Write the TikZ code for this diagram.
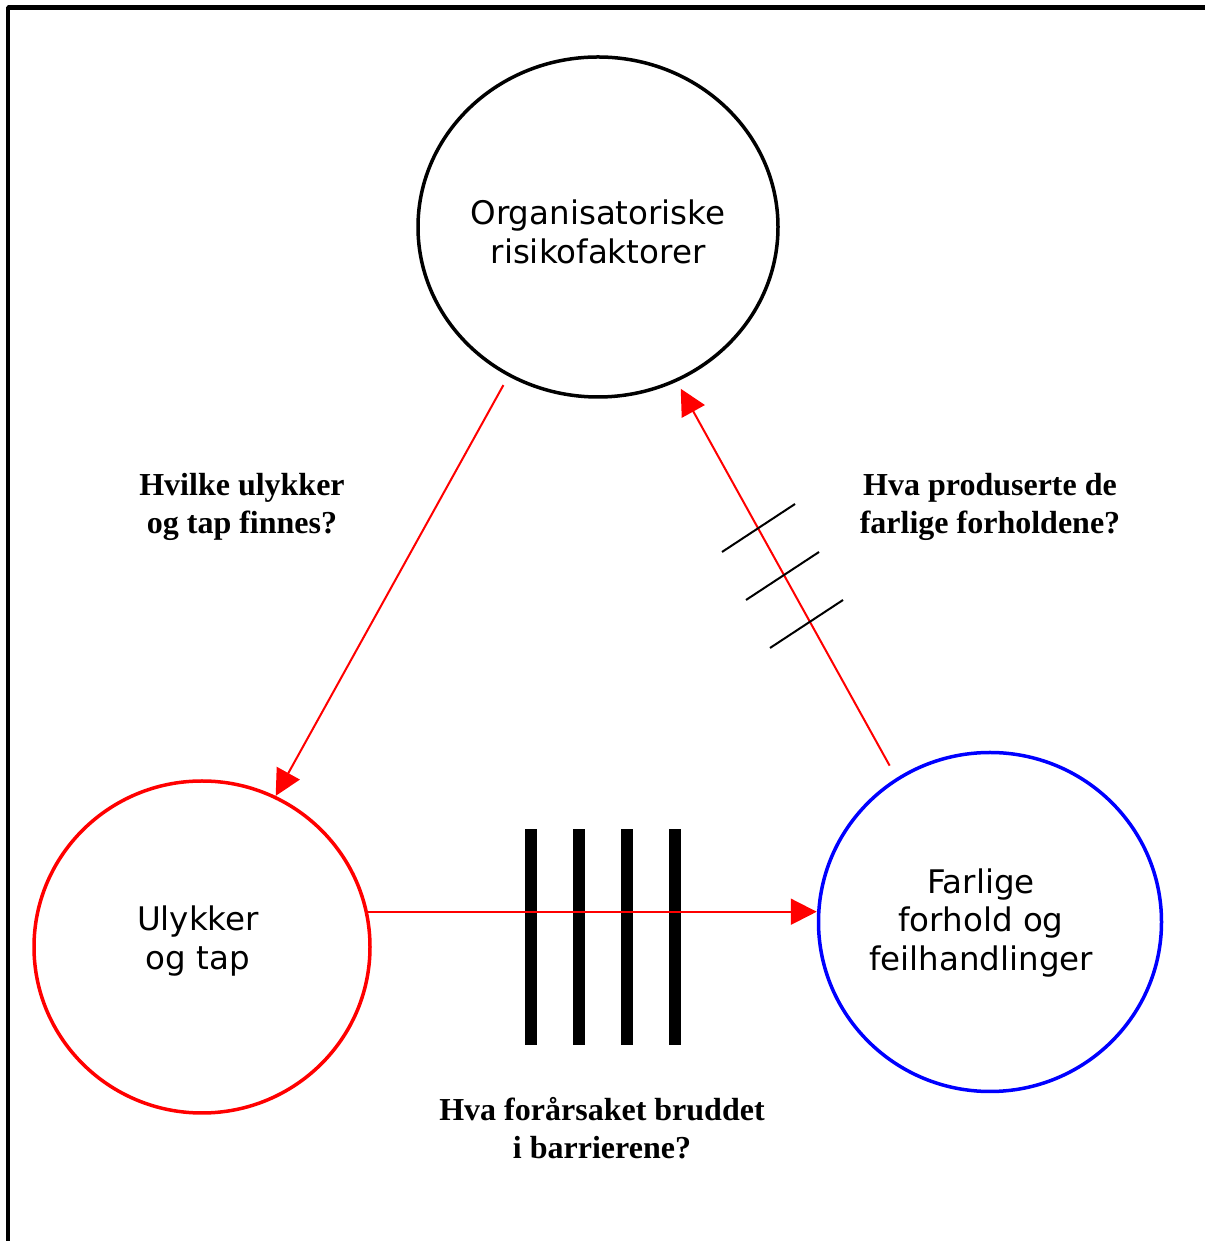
\documentclass[tikz,border=0pt]{standalone}
\usepackage{fontspec}
\setmainfont{Liberation Serif}
\newfontfamily\ringfont{DejaVu Sans}
\usetikzlibrary{shapes.geometric,arrows.meta}

\begin{document}
\begin{tikzpicture}[>={Triangle[length=26bp,width=26bp]},line join=bevel,
    ring/.style={draw,ellipse,line width=3.5bp,inner sep=0pt},
    ringtext/.style={inner sep=0pt,align=center,
      font=\ringfont\fontsize{32.5bp}{38.5bp}\selectfont},
    question/.style={inner sep=0pt,align=center,
      font=\bfseries\fontsize{32bp}{38bp}\selectfont},
    flow/.style={red,line width=2bp,->},
  ]
  \useasboundingbox (0bp,0bp) rectangle (1205bp,1241bp);
  %% frame
  \draw [line width=4.5bp] (8bp,-10bp) -- (8bp,1233.5bp) -- (1215bp,1233.5bp);
  %% circles
  \node (org) at (598bp,1014bp) [ring,minimum width=360bp,minimum height=340bp] {};
  \node (uly) at (202bp,294bp) [ring,draw=red,minimum width=336bp,minimum height=332bp] {};
  \node (far) at (990bp,319bp) [ring,draw=blue,minimum width=343bp,minimum height=339bp] {};
  \node (orgtext) at (598bp,1009bp) [ringtext] {Organisatoriske\\risikofaktorer};
  \node (ulytext) at (198bp,300bp) [ringtext] {Ulykker\\og tap};
  \node (fartext) at (981bp,318bp) [ringtext] {Farlige\\forhold og\\feilhandlinger};
  %% barriers
  \foreach \x in {531,579,627,675}
    \fill (\x bp,196bp) ++(-6bp,0bp) rectangle ++(12bp,216bp);
  %% arrows
  \draw [flow,shorten <=10bp] (org.239.6) -- (uly.64);
  \draw [flow,shorten <=14bp,shorten >=8bp] (far.123.3) -- (org.297.1);
  \draw [flow] (uly.12.1) -- (uly.12.1 -| far.west);
  \foreach \x/\y in {758.5/713,782.5/665,806.5/617}
    \draw [line width=2bp] (\x bp,\y bp) ++(-36.5bp,-24bp) -- ++(73bp,48bp);
  %% questions
  \node (q1) at (242bp,734bp) [question] {Hvilke ulykker\\og tap finnes?};
  \node (q2) at (990bp,734bp) [question] {Hva produserte de\\farlige forholdene?};
  \node (q3) at (602bp,113bp) [question] {Hva forårsaket bruddet\\i barrierene?};
  %
\end{tikzpicture}
\end{document}
